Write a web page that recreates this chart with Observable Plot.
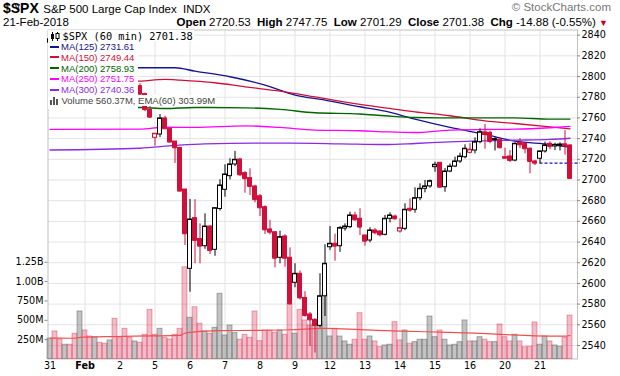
<!DOCTYPE html>
<html><head><meta charset="utf-8">
<script src="https://cdn.jsdelivr.net/npm/d3@7"></script>
<script src="https://cdn.jsdelivr.net/npm/@observablehq/plot@0.6"></script>
<style>
body{margin:0;background:#fff;}
#chart{position:relative;width:620px;height:376px;overflow:hidden;font-family:"Liberation Sans",Arial,sans-serif;color:#000;}
#chart svg{position:absolute;left:0;top:0;background:transparent !important;}
.hd{position:absolute;white-space:nowrap;}
#legend{position:absolute;left:47.5px;top:30.3px;width:90px;background:#fff;padding-bottom:3px;z-index:5;}
#legend .row{white-space:nowrap;width:max-content;background:#fff;height:10.8px;line-height:10.8px;font:9.5px "Liberation Sans",Arial,sans-serif;padding-left:2px;padding-right:1px;}
#legend .row.r1{font:10.3px "DejaVu Sans Mono",monospace;}
#legend .sw{display:inline-block;width:9px;height:2px;vertical-align:middle;margin-right:2.5px;margin-top:-2px;}
#legend svg{position:static !important;vertical-align:middle;margin-top:-2px;}
</style></head><body>
<div id="chart"></div>
<script>
// ---------- data ----------
const dayLabels = ["31","Feb","2","5","6","7","8","9","12","13","14","15","16","20","21"];
const barsPerDay = 7;
const priorClose = 2822.43;
const prevClose = 2716.26;

const opens = [2832.7,2836.0,2828.0,2820.0,2824.0,2816.0,2815.0, 2816.5,2818.0,2815.0,2826.0,2822.0,2818.0,2824.0, 2808.9,2798.0,2790.0,2786.0,2790.7,2783.0,2767.9, 2740.8,2744.0,2759.5,2749.5,2737.2,2731.1,2690.8, 2614.1,2663.1,2643.0,2636.0,2655.0,2632.5,2672.0, 2690.5,2703.7,2715.0,2719.8,2706.6,2701.8,2693.7, 2684.3,2673.7,2652.2,2649.5,2624.8,2645.4,2624.8, 2600.6,2609.3,2586.0,2570.0,2564.8,2559.0,2587.6, 2635.0,2638.3,2636.0,2653.0,2654.4,2665.7,2662.5, 2646.3,2641.5,2651.2,2650.2,2647.0,2662.5,2664.7, 2650.2,2652.8,2672.2,2671.2,2682.4,2691.5,2693.8, 2712.4,2716.6,2693.0,2708.2,2713.0,2717.9,2722.0, 2726.3,2728.5,2736.6,2746.0,2745.6,2738.7,2738.9, 2722.0,2722.7,2718.8,2736.0,2735.0,2730.2,2717.9, 2720.53,2727.6,2735.0,2732.4,2733.0,2734.5,2733.4];
const highs = [2839.3,2837.0,2830.0,2826.0,2825.0,2819.0,2826.0, 2822.0,2820.0,2828.0,2836.0,2825.0,2826.0,2826.0, 2808.9,2800.0,2793.0,2796.0,2793.0,2784.0,2771.5, 2744.7,2763.3,2761.7,2749.5,2737.2,2731.1,2690.8, 2681.2,2681.0,2657.6,2667.3,2656.0,2673.0,2700.2, 2714.7,2720.5,2727.6,2721.0,2708.0,2710.8,2695.0, 2686.0,2675.0,2661.0,2650.0,2650.5,2647.0,2634.4, 2619.0,2612.0,2592.0,2572.0,2566.0,2609.3,2637.4, 2655.0,2647.6,2655.0,2657.6,2668.8,2668.8,2672.2, 2647.0,2653.8,2653.0,2651.0,2665.7,2668.3,2666.0, 2662.5,2677.0,2681.8,2692.4,2696.3,2699.5,2700.0, 2717.2,2717.0,2711.0,2715.5,2722.0,2725.9,2734.0, 2735.0,2740.8,2749.5,2753.7,2747.0,2741.0,2740.0, 2730.7,2728.5,2736.0,2740.0,2736.0,2731.0,2719.0, 2728.0,2736.6,2737.0,2735.5,2736.0,2747.75,2734.0];
const lows = [2826.0,2826.0,2818.0,2815.0,2813.0,2813.0,2814.0, 2812.7,2813.0,2814.0,2820.0,2815.0,2816.0,2818.0, 2795.0,2787.0,2783.0,2785.0,2781.0,2766.0,2759.5, 2732.7,2741.0,2749.5,2736.6,2716.0,2689.2,2636.7, 2591.5,2619.0,2619.0,2633.0,2628.0,2626.3,2670.0, 2683.4,2700.0,2713.0,2703.5,2687.2,2685.0,2678.0, 2664.7,2647.3,2647.0,2615.0,2619.0,2615.7,2579.0, 2595.8,2584.0,2567.4,2539.0,2532.7,2557.0,2568.0, 2632.0,2621.5,2630.0,2650.5,2653.0,2660.0,2646.3, 2636.0,2639.3,2647.0,2645.0,2646.0,2658.6,2661.0, 2648.6,2651.0,2668.8,2667.9,2680.0,2687.6,2692.0, 2707.5,2692.0,2688.2,2707.0,2712.0,2716.0,2720.5, 2725.3,2725.3,2735.0,2729.8,2735.0,2728.0,2730.0, 2720.5,2717.0,2717.5,2730.2,2725.3,2706.0,2714.0, 2715.7,2726.0,2729.2,2728.5,2728.0,2724.0,2701.29];
const closes = [2836.0,2828.0,2820.0,2824.0,2816.0,2815.0,2823.8, 2818.0,2815.0,2826.0,2822.0,2818.0,2824.0,2822.0, 2798.0,2790.0,2786.0,2792.0,2783.0,2768.0,2760.7, 2744.7,2759.5,2749.5,2736.6,2731.1,2689.2,2648.0, 2661.8,2641.5,2636.0,2655.0,2631.8,2672.7,2694.7, 2705.3,2715.0,2719.5,2705.0,2701.2,2693.7,2680.9, 2673.1,2651.8,2649.5,2624.3,2644.7,2624.3,2580.3, 2609.3,2586.0,2569.0,2564.8,2559.3,2587.6,2619.0, 2638.3,2636.0,2653.5,2655.0,2665.7,2661.5,2654.4, 2640.8,2651.2,2649.0,2647.0,2662.5,2665.7,2662.5, 2653.4,2671.2,2670.8,2682.4,2691.5,2693.8,2698.8, 2714.7,2693.0,2708.2,2713.0,2717.9,2722.7,2730.2, 2729.2,2736.6,2746.2,2744.0,2737.2,2739.5,2731.2, 2721.0,2718.8,2735.0,2734.0,2730.2,2717.9,2716.26, 2727.6,2733.4,2732.4,2734.0,2734.3,2733.0,2701.38];
// volume, millions of shares
const volumes = [262,356,253,184,184,326,614, 369,291,282,210,197,240,519, 282,390,274,227,210,313,635, 313,390,274,253,313,390,1185, 532,669,455,356,326,403,842, 304,433,334,249,313,274,614, 231,369,369,339,369,313,713, 326,635,498,433,455,476,842, 291,390,291,227,184,249,592, 249,291,227,153,175,184,476, 240,369,197,218,249,249,549, 282,369,249,175,184,218,498, 227,227,282,249,218,218,446, 282,227,313,227,153,159,472, 184,291,227,175,159,278,560.37];

// moving averages (bar index -> value)
const ma125Idx = [0,17,25,29,36,43,49,55,62,67,73,80,87,93,100,104];
const ma125 = [2809,2808.5,2808.5,2805.2,2799.8,2791.7,2782.0,2777.2,2770.8,2766.5,2758.8,2750.8,2744.0,2737.5,2734.3,2731.61];
const ma150Idx = [0,17,23,26,33,39,46,53,62,67,73,80,87,93,100,104];
const ma150 = [2796,2795.5,2797.2,2796.5,2794.0,2790.1,2785.9,2780.4,2773.0,2769.8,2765.9,2762.1,2757.2,2754.6,2751.4,2749.44];
const ma200Idx = [0,18,23,29,39,46,53,62,67,73,80,93,100,104];
const ma200 = [2770,2770.1,2769.1,2770.1,2769.8,2768.2,2765.0,2763.8,2762.1,2760.4,2760.1,2760.1,2758.8,2758.93];
const ma250Idx = [0,18,23,29,39,46,53,62,67,73,80,87,93,100,104];
const ma250 = [2749,2749.1,2751.0,2750.8,2752.4,2750.8,2748.2,2747.6,2746.6,2745.9,2748.2,2748.8,2749.1,2750.5,2751.75];
const ma300Idx = [0,18,25,31,41,48,58,67,73,80,87,93,100,104];
const ma300 = [2729,2730.7,2733.4,2735.0,2735.6,2735.6,2735.0,2734.3,2735.3,2736.9,2737.9,2738.5,2739.2,2740.36];
const emaIdx = [0,5,6,13,20,26,27,29,34,41,48,55,62,70,78,85,91,97,103,104];
const ema60 = [270,268,280,290,298,305,333,350,366,370,378,395,380,360,347,334,315,300,296,303.99];

const priceTicks = [2540,2560,2580,2600,2620,2640,2660,2680,2700,2720,2740,2760,2780,2800,2820,2840];
const volTicks = [250,500,750,1000,1250];
const volTickLabels = ["250M","500M","750M","1.00B","1.25B"];

const maNames = ["MA(125)","MA(150)","MA(200)","MA(250)","MA(300)"];
const maColors = ["#14148c","#d0103a","#006400","#ff00ff","#8c2be2"];

const sessionDate = "21-Feb-2018";
const sessionOpen = 2720.53, sessionHigh = 2747.75, sessionLow = 2701.29, sessionClose = 2701.38;

// ---------- derived tables ----------
const RED = "#d0103a", BLACK = "#000";
const bars = opens.map((o, i) => {
  const prev = i ? closes[i - 1] : priorClose;
  const c = closes[i];
  return {i, o, h: highs[i], l: lows[i], c, v: volumes[i], col: c < prev ? RED : BLACK, filled: c < o, down: c < prev};
});
const dayTicks = dayLabels.map((label, k) => ({idx: k * barsPerDay, label}));
const maSeries = [[ma125Idx, ma125], [ma150Idx, ma150], [ma200Idx, ma200], [ma250Idx, ma250], [ma300Idx, ma300]]
  .map(([ix, vals], k) => ({name: maNames[k], color: maColors[k], pts: ix.map((i, j) => ({i, p: vals[j]}))}));
const emaPts = emaIdx.map((i, j) => ({i, v: ema60[j]}));

// ---------- layout ----------
const W = 620, H = 376, mL = 47.5, mR = 43, mT = 29.5, mB = 17.5;
const xDom = [-0.4, 105.5];
const priceDom = [2526.95, 2845.0];
const volDom = [0, 4250];
const dims = {width: W, height: H, marginLeft: mL, marginRight: mR, marginTop: mT, marginBottom: mB};
const font = {fontFamily: "DejaVu Sans, sans-serif", fontSize: "9.6px", background: "transparent", overflow: "visible"};

const chart = document.getElementById("chart");

// layer 1: grid + frame
const grid = Plot.plot({
  ...dims, style: font,
  x: {type: "linear", domain: xDom, axis: null},
  y: {domain: priceDom, axis: null},
  marks: [
    Plot.ruleY(priceTicks, {stroke: "#e3e3e3"}),
    Plot.ruleX(dayTicks.slice(1), {x: "idx", stroke: "#e3e3e3"}),
    Plot.frame({stroke: "#c2c2c2"})
  ]
});

// layer 2: volume
const vol = Plot.plot({
  ...dims, style: font,
  x: {type: "linear", domain: xDom, axis: null},
  y: {domain: volDom, axis: null},
  marks: [
    Plot.rect(bars.filter(d => d.down), {x1: d => d.i - 0.5, x2: d => d.i + 0.5, y1: 0, y2: "v", fill: RED, fillOpacity: 0.28, stroke: RED, strokeOpacity: 0.35, strokeWidth: 1}),
    Plot.rect(bars.filter(d => !d.down), {x1: d => d.i - 0.5, x2: d => d.i + 0.5, y1: 0, y2: "v", fill: "#7a7a7a", fillOpacity: 0.45, stroke: "#555", strokeOpacity: 0.45, strokeWidth: 1}),
    Plot.line(emaPts, {x: "i", y: "v", stroke: "#f05050", strokeWidth: 1.2, curve: "monotone-x"}),
    Plot.ruleY(volTicks, {x1: xDom[0] - 0.6, x2: xDom[0], stroke: "#888"}),
    Plot.axisY(volTicks, {anchor: "left", tickSize: 0, tickPadding: 4.5, tickFormat: (d, k) => volTickLabels[k], fontSize: 9.6})
  ]
});

// layer 3: price
const price = Plot.plot({
  ...dims, style: font,
  x: {type: "linear", domain: xDom, axis: null},
  y: {domain: priceDom, axis: null},
  color: {type: "identity"},
  marks: [
    Plot.ruleY([prevClose], {x1: dayTicks[dayTicks.length - 1].idx, x2: xDom[1] + 0.6, stroke: "#1010d0", strokeWidth: 1.4, strokeDasharray: "3,2"}),
    ...maSeries.map(s => Plot.line(s.pts, {x: "i", y: "p", stroke: s.color, strokeWidth: 1.3, curve: "monotone-x"})),
    Plot.ruleX(bars, {x: "i", y1: "l", y2: "h", stroke: "col", strokeWidth: 1}),
    Plot.rect(bars, {x1: d => d.i - 0.4, x2: d => d.i + 0.4, y1: "o", y2: "c", fill: d => d.filled ? d.col : "#fff", stroke: "col", strokeWidth: 1}),
    Plot.ruleY(bars, {y: "c", x1: d => d.i - 0.4, x2: d => d.i + 0.4, stroke: "col", strokeWidth: 1}),
    Plot.ruleY(priceTicks, {x1: xDom[1], x2: xDom[1] + 0.6, stroke: "#888"}),
    Plot.axisY(priceTicks, {anchor: "right", tickSize: 0, tickPadding: 4, fontSize: 9.6, tickFormat: d => String(d)}),
    Plot.text(dayTicks.filter(d => d.label !== "Feb"), {x: "idx", text: "label", frameAnchor: "bottom", dy: 9.5, fontSize: 9.6, fill: "#000"}),
    Plot.text(dayTicks.filter(d => d.label === "Feb"), {x: "idx", text: "label", frameAnchor: "bottom", dy: 9.5, fontSize: 9.6, fontWeight: "bold", fill: "#000"})
  ]
});

for (const el of [grid, vol, price]) {
  el.style.position = "absolute"; el.style.left = "0"; el.style.top = "0"; el.style.background = "transparent";
  chart.appendChild(el);
}

// ---------- header ----------
const chg = sessionClose - prevClose;
const pct = chg / prevClose * 100;
function hd(html, css) { const d = document.createElement("div"); d.className = "hd"; d.innerHTML = html; d.style.cssText += css; chart.appendChild(d); return d; }
hd(`<span style="font-weight:bold;font-size:14px">$SPX</span> <span style="font-size:11.5px">S&amp;P 500 Large Cap Index&nbsp; INDX</span>`,
   "left:3px;top:0px;height:15px;line-height:15px;font-family:'Liberation Sans',Arial;");
hd("&copy; StockCharts.com", "right:9px;top:1px;height:13px;line-height:13px;font:11.5px 'Liberation Sans',Arial;color:#777;");
hd(sessionDate, "left:3px;top:16px;height:13px;line-height:13px;font:11.5px 'Liberation Sans',Arial;");
hd(`<b>Open</b> ${sessionOpen.toFixed(2)} &nbsp;<b>High</b> ${sessionHigh.toFixed(2)} &nbsp;<b>Low</b> ${sessionLow.toFixed(2)} &nbsp;<b>Close</b> ${sessionClose.toFixed(2)} &nbsp;<b>Chg</b> ${chg.toFixed(2)} (${pct.toFixed(2)}%) <span style="color:#c00020;font-size:9px">&#9660;</span>`,
   "right:12px;top:16px;height:13px;line-height:13px;font:11.5px 'Liberation Sans',Arial;");

// ---------- legend ----------
const legend = document.createElement("div");
legend.id = "legend";
const candleIcon = `<svg width="10" height="9" style="margin-right:3px"><line x1="2.5" y1="0" x2="2.5" y2="9" stroke="#000"/><rect x="1" y="2" width="3" height="5" fill="#000"/><line x1="7.5" y1="0" x2="7.5" y2="9" stroke="#000"/><rect x="6" y="1.5" width="3" height="5" fill="#fff" stroke="#000"/></svg>`;
const volIcon = `<svg width="10" height="9" style="margin-right:2px"><rect x="0" y="4" width="2" height="5" fill="#555"/><rect x="3" y="1" width="2" height="8" fill="#555"/><rect x="6" y="3" width="2" height="6" fill="#555"/></svg>`;
let html = `<div class="row r1">${candleIcon}$SPX (60 min) ${closes[closes.length - 1].toFixed(2)}</div>`;
for (const s of maSeries) {
  html += `<div class="row"><span class="sw" style="background:${s.color}"></span><span style="color:${s.color}">${s.name} ${s.pts[s.pts.length - 1].p.toFixed(2)}</span></div>`;
}
html += `<div class="row" style="color:#444">${volIcon}Volume ${volumes[volumes.length - 1].toFixed(2)}M, EMA(60) ${ema60[ema60.length - 1].toFixed(2)}M</div>`;
legend.innerHTML = html;
chart.appendChild(legend);
</script>
</body></html>
